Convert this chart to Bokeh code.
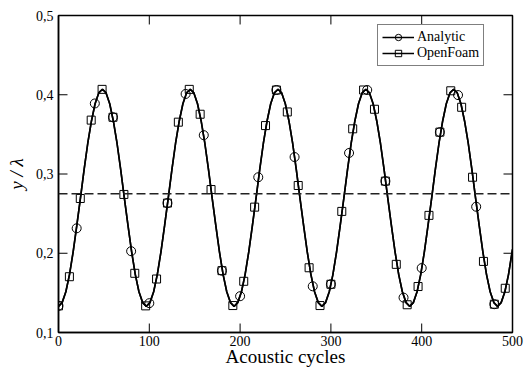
from bokeh.plotting import figure
from bokeh.models import Range1d, FixedTicker, Span, Legend, LegendItem
from bokeh.embed import file_html
from bokeh.resources import INLINE

# ---- data ----
x_ticks = [0, 100, 200, 300, 400, 500]
y_ticks = [0.1, 0.2, 0.3, 0.4, 0.5]
y_tick_labels = ["0,1", "0,2", "0,3", "0,4", "0,5"]
x_title = "Acoustic cycles"
y_title = "y / λ"
mean_level = 0.275

# analytic curve (sampled along the drawn line)
curve_x = [0, 4.0, 8.1, 12.1, 16.1, 20.1, 24.2, 28.2, 32.2, 36.3, 40.3, 44.3, 48.4, 52.4, 56.4, 60.4,
           64.5, 68.5, 72.5, 76.6, 80.6, 84.6, 88.6, 92.7,
           96.7, 100.7, 104.8, 108.8, 112.8, 116.8, 120.9, 124.9, 128.9, 133.0, 137.0, 141.0, 145.1,
           149.1, 153.1, 157.1, 161.2, 165.2, 169.2, 173.3, 177.3, 181.3, 185.3, 189.4,
           193.4, 197.4, 201.5, 205.5, 209.5, 213.5, 217.6, 221.6, 225.6, 229.7, 233.7, 237.7, 241.8,
           245.8, 249.8, 253.8, 257.9, 261.9, 265.9, 270.0, 274.0, 278.0, 282.0, 286.1,
           290.1, 294.1, 298.2, 302.2, 306.2, 310.2, 314.3, 318.3, 322.3, 326.4, 330.4, 334.4, 338.5,
           342.5, 346.5, 350.5, 354.6, 358.6, 362.6, 366.7, 370.7, 374.7, 378.7, 382.8,
           386.8, 390.8, 394.9, 398.9, 402.9, 406.9, 411.0, 415.0, 419.0, 423.1, 427.1, 431.1, 435.2,
           439.2, 443.2, 447.2, 451.3, 455.3, 459.3, 463.4, 467.4, 471.4, 475.4, 479.5,
           483.5, 487.5, 491.6, 495.6, 500.0]
curve_y = [0.1330, 0.1377, 0.1514, 0.1731, 0.2015, 0.2345, 0.2700, 0.3055, 0.3385, 0.3669, 0.3886, 0.4023,
           0.4070, 0.4023, 0.3886, 0.3669, 0.3385, 0.3055, 0.2700, 0.2345, 0.2015, 0.1731, 0.1514, 0.1377,
           0.1330, 0.1377, 0.1514, 0.1731, 0.2015, 0.2345, 0.2700, 0.3055, 0.3385, 0.3669, 0.3886, 0.4023,
           0.4070, 0.4023, 0.3886, 0.3669, 0.3385, 0.3055, 0.2700, 0.2345, 0.2015, 0.1731, 0.1514, 0.1377,
           0.1330, 0.1377, 0.1514, 0.1731, 0.2015, 0.2345, 0.2700, 0.3055, 0.3385, 0.3669, 0.3886, 0.4023,
           0.4070, 0.4023, 0.3886, 0.3669, 0.3385, 0.3055, 0.2700, 0.2345, 0.2015, 0.1731, 0.1514, 0.1377,
           0.1330, 0.1377, 0.1514, 0.1731, 0.2015, 0.2345, 0.2700, 0.3055, 0.3385, 0.3669, 0.3886, 0.4023,
           0.4070, 0.4023, 0.3886, 0.3669, 0.3385, 0.3055, 0.2700, 0.2345, 0.2015, 0.1731, 0.1514, 0.1377,
           0.1330, 0.1377, 0.1514, 0.1731, 0.2015, 0.2345, 0.2700, 0.3055, 0.3385, 0.3669, 0.3886, 0.4023,
           0.4070, 0.4023, 0.3886, 0.3669, 0.3385, 0.3055, 0.2700, 0.2345, 0.2015, 0.1731, 0.1514, 0.1377,
           0.1330, 0.1377, 0.1514, 0.1731, 0.2050]

# Analytic markers (circles)
analytic_x = [0, 20, 40, 60, 80, 100, 120, 140, 160, 180, 200, 220, 240, 260, 280, 300, 320, 340,
              360, 380, 400, 420, 440, 460, 480]
analytic_y = [0.1336, 0.2315, 0.389, 0.3716, 0.2026, 0.137, 0.2633, 0.401, 0.349, 0.178, 0.1458, 0.2959,
              0.406, 0.3214, 0.1583, 0.1609, 0.3265, 0.406, 0.291, 0.144, 0.1813, 0.3528, 0.3996, 0.2587,
              0.1357]

# OpenFoam markers (squares)
openfoam_x = [0, 12, 24, 36, 48, 60, 72, 84, 96, 108, 120, 132, 144, 156, 168, 180, 192, 204, 216, 228,
              240, 252, 264, 276, 288, 300, 312, 324, 336, 348, 360, 372, 384, 396, 408, 420, 432, 444,
              456, 468, 480, 492]
openfoam_y = [0.1336, 0.1704, 0.2691, 0.368, 0.4068, 0.3716, 0.2742, 0.1747, 0.1336, 0.1675, 0.2633, 0.3654,
              0.4068, 0.3754, 0.2804, 0.178, 0.134, 0.1646, 0.2582, 0.3611, 0.406, 0.3783, 0.2855, 0.1817,
              0.134, 0.1609, 0.2528, 0.357, 0.406, 0.3817, 0.291, 0.186, 0.135, 0.158, 0.2478, 0.3528,
              0.405, 0.3842, 0.2959, 0.1897, 0.1357, 0.1558]

FONT = "Liberation Serif"
X0, X1, Y0, Y1 = 0, 500, 0.1, 0.5
W, H = 525, 369
BL, BR, BT, BB = 58, 13, 15, 36
TICK_PX = 9

p = figure(width=W, height=H, output_backend="svg", toolbar_location=None,
           x_range=Range1d(X0, X1), y_range=Range1d(Y0, Y1),
           x_axis_label=x_title, y_axis_label=y_title,
           min_border_left=BL, min_border_right=BR, min_border_top=BT, min_border_bottom=BB)
p.outline_line_color = "black"
p.outline_line_width = 1.5
p.grid.visible = False
p.background_fill_color = "white"
p.border_fill_color = "white"

p.xaxis.ticker = FixedTicker(ticks=x_ticks)
p.yaxis.ticker = FixedTicker(ticks=y_ticks)
p.yaxis.major_label_overrides = {t: s for t, s in zip(y_ticks, y_tick_labels)}

for ax in p.axis:
    ax.axis_line_color = "black"
    ax.axis_line_width = 1.5
    ax.major_tick_in = 0
    ax.major_tick_out = 0
    ax.minor_tick_line_color = None
    ax.major_label_text_font = FONT
    ax.major_label_text_font_size = "14px"
    ax.major_label_text_color = "black"
    ax.axis_label_text_font = FONT
    ax.axis_label_text_font_size = "19px"
    ax.axis_label_text_color = "black"

bottom_ax = p.below[0]
left_ax = p.left[0]
bottom_ax.major_label_standoff = 3
bottom_ax.axis_label_standoff = -3
bottom_ax.axis_label_text_font_style = "normal"
left_ax.major_label_standoff = 5
left_ax.axis_label_standoff = 6
left_ax.axis_label_text_font_style = "italic"

# inward ticks on all four frame sides (short multi-line strokes inside the frame)
tx = TICK_PX * (X1 - X0) / (W - BL - BR)
ty = TICK_PX * (Y1 - Y0) / (H - BT - BB)
tick_xs, tick_ys = [], []
for xv in x_ticks:
    tick_xs += [[xv, xv], [xv, xv]]
    tick_ys += [[Y0, Y0 + ty], [Y1, Y1 - ty]]
for yv in y_ticks:
    tick_xs += [[X0, X0 + tx], [X1, X1 - tx]]
    tick_ys += [[yv, yv], [yv, yv]]
p.multi_line(tick_xs, tick_ys, line_color="black", line_width=1)

# dashed reference level
p.add_layout(Span(location=mean_level, dimension="width", line_color="#222222",
                  line_width=1.5, line_dash="9 4"))

of_line = p.line(curve_x, curve_y, line_color="black", line_width=1.6)
line_r = p.line(curve_x, curve_y, line_color="black", line_width=1.6)
circ_r = p.scatter(analytic_x, analytic_y, marker="circle", size=9, fill_color=None,
                   line_color="black", line_width=1)
sq_r = p.scatter(openfoam_x, openfoam_y, marker="square", size=8, fill_color=None,
                 line_color="black", line_width=1)

legend = Legend(items=[LegendItem(label="Analytic", renderers=[line_r, circ_r]),
                       LegendItem(label="OpenFoam", renderers=[of_line, sq_r])],
                location=(319, 266), margin=0, padding=4, spacing=0,
                glyph_width=32, glyph_height=16, label_height=16, label_standoff=3,
                label_text_font=FONT, label_text_font_size="14px", label_text_color="black",
                border_line_color="black", border_line_width=1,
                background_fill_color="white", background_fill_alpha=1)
p.add_layout(legend)

open("out.html", "w").write(file_html(p, INLINE))
